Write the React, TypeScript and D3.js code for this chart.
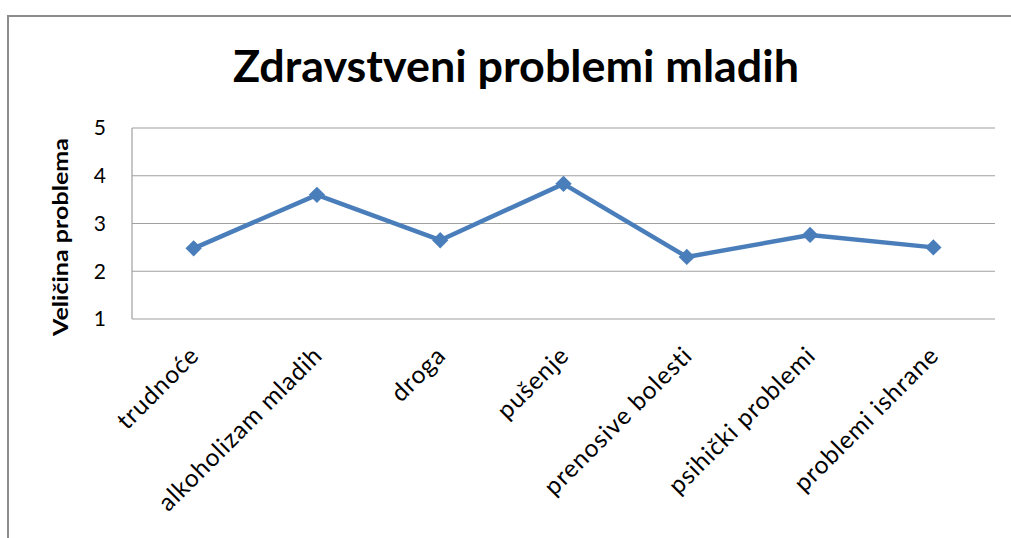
import React from "react";
import * as d3 from "d3";

const width = 1011;
const height = 538;
const margin = { top: 128, right: 16, bottom: 219, left: 132 };

const categories = [
  "trudnoće",
  "alkoholizam mladih",
  "droga",
  "pušenje",
  "prenosive bolesti",
  "psihički problemi",
  "problemi ishrane",
];
const values = [2.48, 3.6, 2.65, 3.83, 2.3, 2.76, 2.5];
const yTicks = [1, 2, 3, 4, 5];

const title = "Zdravstveni problemi mladih";
const yTitle = "Veličina problema";

const font = "Lato, 'Open Sans', sans-serif";
const lineColor = "#4a7ebb";

export default function App() {
  const boundsWidth = width - margin.left - margin.right; // plot right at 995
  const boundsHeight = height - margin.top - margin.bottom;

  const xScale = d3.scaleBand().domain(categories).range([0, boundsWidth]);
  const yScale = d3.scaleLinear().domain([1, 5]).range([boundsHeight, 0]);

  const line = d3
    .line<number>()
    .x((_, i) => xScale(categories[i])! + xScale.bandwidth() / 2)
    .y((d) => yScale(d));

  const diamond = d3.symbol().type(d3.symbolDiamond2).size(170)();

  return (
    <svg
      width={width}
      height={height}
      style={{ position: "absolute", left: 0, top: 0, background: "#fff" }}
    >
      {/* chart frame */}
      <rect x={8} y={16} width={width + 10} height={height + 10} fill="none" stroke="#8c8c8c" strokeWidth={2} />

      <text
        x={516}
        y={82}
        textAnchor="middle"
        fontFamily={font}
        fontWeight="bold"
        fontSize={44}
        textLength={566}
        lengthAdjust="spacingAndGlyphs"
        fill="#000"
      >
        {title}
      </text>

      <text
        transform="translate(68,237) rotate(-90)"
        textAnchor="middle"
        fontFamily={font}
        fontWeight="bold"
        fontSize={20}
        textLength={198}
        lengthAdjust="spacingAndGlyphs"
        fill="#000"
      >
        {yTitle}
      </text>

      <g transform={`translate(${margin.left},${margin.top})`}>
        {yTicks.map((t) => (
          <g key={t}>
            <line x1={0} x2={boundsWidth} y1={yScale(t)} y2={yScale(t)} stroke="#a0a0a0" strokeWidth={1.2} />
            <text
              x={-26}
              y={yScale(t)}
              dy="0.35em"
              textAnchor="end"
              fontFamily={font}
              fontSize={21}
              fill="#000"
            >
              {t}
            </text>
          </g>
        ))}
        <line x1={0} x2={0} y1={0} y2={boundsHeight} stroke="#a0a0a0" strokeWidth={1.2} />

        {categories.map((c) => {
          const cx = xScale(c)! + xScale.bandwidth() / 2;
          return (
            <text
              key={c}
              transform={`translate(${cx + 7},${boundsHeight + 38}) rotate(-45)`}
              textAnchor="end"
              fontFamily={font}
              fontSize={24.5}
              letterSpacing={0.9}
              fill="#000"
            >
              {c}
            </text>
          );
        })}

        <path d={line(values) ?? ""} fill="none" stroke={lineColor} strokeWidth={4.5} strokeLinejoin="round" />
        {values.map((v, i) => (
          <path
            key={i}
            d={diamond ?? ""}
            transform={`translate(${xScale(categories[i])! + xScale.bandwidth() / 2},${yScale(v)})`}
            fill={lineColor}
          />
        ))}
      </g>
    </svg>
  );
}
